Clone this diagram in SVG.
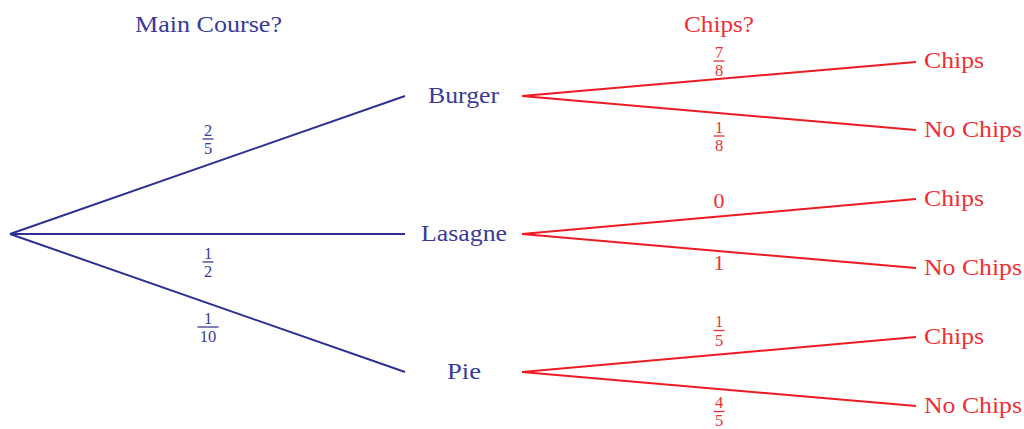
<svg xmlns="http://www.w3.org/2000/svg" width="1024" height="429" viewBox="0 0 1024 429">
<style>
text{font-family:"Liberation Serif","DejaVu Serif",serif}
.b{fill:#3a3a98}
.r{fill:#ee3036}
.lb{font-size:24px}
.fr{font-size:16.5px;text-anchor:middle}
.dg{font-size:22px;text-anchor:middle}
.bl{stroke:#2e3192;stroke-width:2;fill:none}
.rl{stroke:#ed1c24;stroke-width:2;fill:none}
.bb{stroke:#3a3a98;stroke-width:1.3}
.rb{stroke:#ee3036;stroke-width:1.3}
</style>
<rect width="1024" height="429" fill="#fff"/>
<g id="connectors">
<line class="bl" x1="10" y1="234" x2="405" y2="96"/>
<line class="bl" x1="10" y1="234" x2="405" y2="234"/>
<line class="bl" x1="10" y1="234" x2="405" y2="372"/>
<line class="rl" x1="522" y1="96" x2="916" y2="62"/>
<line class="rl" x1="522" y1="96" x2="916" y2="130"/>
<line class="rl" x1="522" y1="234" x2="916" y2="199"/>
<line class="rl" x1="522" y1="234" x2="916" y2="268"/>
<line class="rl" x1="522" y1="372" x2="916" y2="337"/>
<line class="rl" x1="522" y1="372" x2="916" y2="406"/>
</g>
<g id="headers">
<text class="b lb" x="135" y="32" textLength="147" lengthAdjust="spacingAndGlyphs">Main Course?</text>
<text class="r lb" x="684" y="32" textLength="70" lengthAdjust="spacingAndGlyphs">Chips?</text>
</g>
<g id="burger"><text class="b lb" x="428" y="103" textLength="71" lengthAdjust="spacingAndGlyphs">Burger</text></g>
<g id="lasagne"><text class="b lb" x="421" y="241" textLength="86" lengthAdjust="spacingAndGlyphs">Lasagne</text></g>
<g id="pie"><text class="b lb" x="447" y="379" textLength="34" lengthAdjust="spacingAndGlyphs">Pie</text></g>
<g id="leaf1"><text class="r lb" x="924" y="68" textLength="60" lengthAdjust="spacingAndGlyphs">Chips</text></g>
<g id="leaf2"><text class="r lb" x="924" y="137" textLength="98" lengthAdjust="spacingAndGlyphs">No Chips</text></g>
<g id="leaf3"><text class="r lb" x="924" y="206" textLength="60" lengthAdjust="spacingAndGlyphs">Chips</text></g>
<g id="leaf4"><text class="r lb" x="924" y="275" textLength="98" lengthAdjust="spacingAndGlyphs">No Chips</text></g>
<g id="leaf5"><text class="r lb" x="924" y="344" textLength="60" lengthAdjust="spacingAndGlyphs">Chips</text></g>
<g id="leaf6"><text class="r lb" x="924" y="413" textLength="98" lengthAdjust="spacingAndGlyphs">No Chips</text></g>
<g id="probs-main">
<text class="b fr" x="208" y="135.5">2</text><line class="bb" x1="202.5" y1="139" x2="213.5" y2="139"/><text class="b fr" x="208" y="154">5</text>
<text class="b fr" x="208" y="258.5">1</text><line class="bb" x1="202.5" y1="262" x2="213.5" y2="262"/><text class="b fr" x="208" y="277">2</text>
<text class="b fr" x="208" y="323.5">1</text><line class="bb" x1="197.5" y1="327" x2="218.5" y2="327"/><text class="b fr" x="208" y="342">10</text>
</g>
<g id="probs-chips">
<text class="r fr" x="719" y="57.5">7</text><line class="rb" x1="713.5" y1="61" x2="724.5" y2="61"/><text class="r fr" x="719" y="76">8</text>
<text class="r fr" x="719" y="132.5">1</text><line class="rb" x1="713.5" y1="136" x2="724.5" y2="136"/><text class="r fr" x="719" y="151">8</text>
<text class="r dg" x="719" y="208">0</text>
<text class="r dg" x="719" y="270">1</text>
<text class="r fr" x="719" y="327">1</text><line class="rb" x1="713.5" y1="330.5" x2="724.5" y2="330.5"/><text class="r fr" x="719" y="345.5">5</text>
<text class="r fr" x="719" y="408">4</text><line class="rb" x1="713.5" y1="411.5" x2="724.5" y2="411.5"/><text class="r fr" x="719" y="426">5</text>
</g>
</svg>
